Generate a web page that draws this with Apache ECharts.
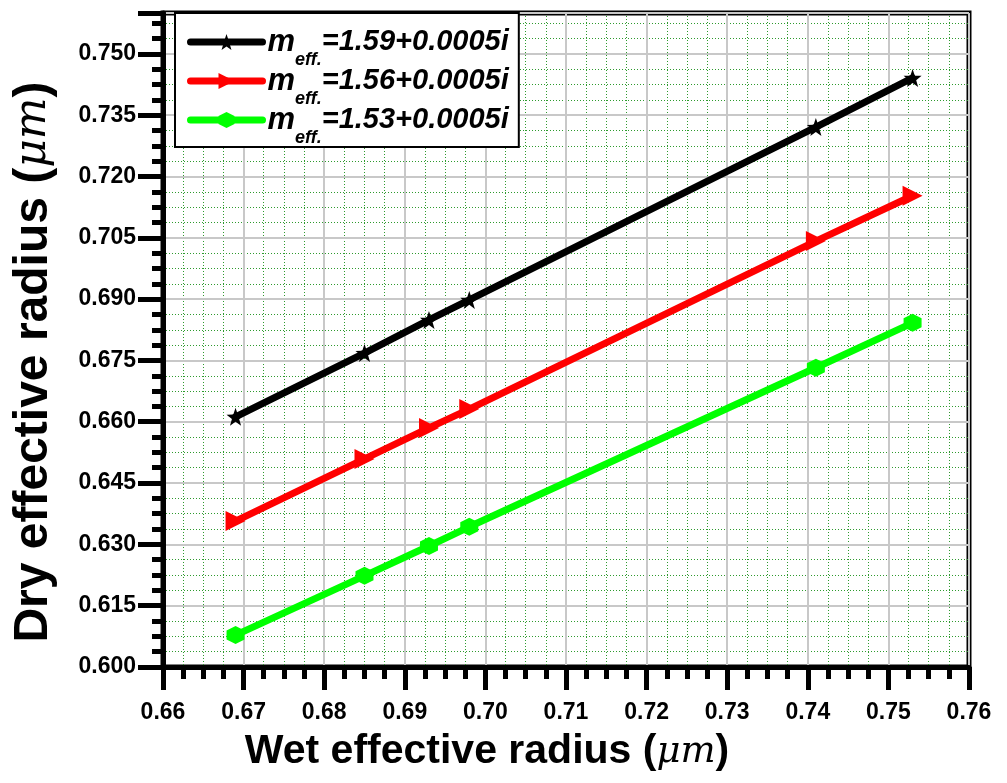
<!DOCTYPE html>
<html>
<head>
<meta charset="utf-8">
<script src="https://cdn.jsdelivr.net/npm/echarts@6/dist/echarts.min.js"></script>
<style>
    html, body { margin: 0; padding: 0; background: #fff; }
    #main-chart { width: 1007px; height: 783px; }
</style>
</head>
<body>
<div id="main-chart"></div>
<script>
const chartDiv = 'main-chart';

// wet effective radius (x) and dry effective radius for each refractive index
const wetRadius = [0.669, 0.685, 0.693, 0.698, 0.741, 0.753];
const dry159 = [0.6612, 0.6768, 0.6849, 0.6898, 0.7321, 0.7441];
const dry156 = [0.6357, 0.6509, 0.6585, 0.6631, 0.7042, 0.7153];
const dry153 = [0.6078, 0.6223, 0.6296, 0.6343, 0.6732, 0.6842];
const seriesNames = ['1.59+0.0005i', '1.56+0.0005i', '1.53+0.0005i'];
const seriesColors = ['#000000', '#ff0000', '#00ff00'];

const starPath = 'path://M0,-10 L2.35,-3.24 9.51,-3.09 3.8,1.24 5.88,8.09 0,4 -5.88,8.09 -3.8,1.24 -9.51,-3.09 -2.35,-3.24 Z';
const hexPath = 'path://M0,-10 L8.66,-5 8.66,5 0,10 -8.66,5 -8.66,-5 Z';

const mainChart = echarts.init(document.getElementById(chartDiv));

function pairUp(ys) {
    return wetRadius.map(function (x, i) {
        return [x, ys[i]];
    });
}

const fontBold = 'Liberation Sans, Arial, sans-serif';

function majorGrid() {
    return {show: true, lineStyle: {color: '#c8c8c8', width: 2}};
}
function minorGrid() {
    return {show: true, lineStyle: {color: '#2e9a2e', width: 1, type: [1, 2]}};
}
function tick(len, w) {
    return {show: true, length: len, lineStyle: {color: '#000000', width: w}};
}

function lineSeries(name, ys, color, symbol, size, rotate) {
    return {
        name: name,
        type: 'line',
        data: pairUp(ys),
        xAxisIndex: 0,
        yAxisIndex: 0,
        symbol: symbol,
        symbolSize: size,
        symbolRotate: rotate || 0,
        showAllSymbol: true,
        lineStyle: {color: color, width: 7, cap: 'round'},
        itemStyle: {color: color},
        z: 5
    };
}

function titleRich(size) {
    return {
        a: {fontFamily: fontBold, fontWeight: 'bold', fontSize: size, fill: '#000'},
        b: {fontFamily: 'DejaVu Serif, serif', fontStyle: 'italic', fontSize: size - 4, fill: '#000'}
    };
}

const option = {
    backgroundColor: '#ffffff',
    animation: false,
    grid: {left: 163, right: 38, top: 13, bottom: 116, show: true, borderColor: '#000000', borderWidth: 5, backgroundColor: 'transparent'},
    legend: {
        left: 175,
        top: 13,
        orient: 'vertical',
        backgroundColor: '#ffffff',
        borderColor: '#000000',
        borderWidth: 2,
        borderRadius: 0,
        padding: [2, 10, 0, 12],
        itemGap: -15,
        itemWidth: 72,
        itemHeight: 20,
        z: 10,
        lineStyle: {width: 7, cap: 'round'},
        data: seriesNames,
        formatter: function (name) {
            return '{m|m}{sub|eff.}{t|=' + name + '}';
        },
        textStyle: {
            rich: {
                m: {fontFamily: fontBold, fontWeight: 'bold', fontStyle: 'italic', fontSize: 31, color: '#000', lineHeight: 34},
                sub: {fontFamily: fontBold, fontWeight: 'bold', fontStyle: 'italic', fontSize: 18, color: '#000', lineHeight: 18, padding: [36, 0, 0, 0]},
                t: {fontFamily: fontBold, fontWeight: 'bold', fontStyle: 'italic', fontSize: 29, color: '#000', lineHeight: 34}
            }
        }
    },
    // axis titles as text (rich axis names broke tick drawing)
    graphic: [
        {
            type: 'text',
            x: 487,
            y: 752,
            z: 20,
            style: {
                text: '{a|Wet effective radius (}{b|μm}{a|)}',
                align: 'center',
                verticalAlign: 'middle',
                rich: titleRich(41)
            }
        },
        {
            type: 'text',
            x: 34,
            y: 362,
            rotation: Math.PI / 2,
            z: 20,
            style: {
                text: '{a|Dry effective radius (}{b|μm}{a|)}',
                align: 'center',
                verticalAlign: 'middle',
                rich: titleRich(48)
            }
        }
    ],
    xAxis: [
        {
            type: 'value',
            position: 'bottom',
            min: 0.66,
            max: 0.76,
            interval: 0.01,
            axisLine: {show: true, lineStyle: {color: '#000', width: 5}},
            axisTick: tick(23, 5),
            axisLabel: {
                margin: 34,
                color: '#000',
                fontFamily: fontBold,
                fontWeight: 'bold',
                fontSize: 23,
                formatter: function (v) { return v.toFixed(2); }
            },
            splitLine: majorGrid(),
            z: 3
        },
        {
            // minor ticks + dotted minor grid
            type: 'value',
            position: 'bottom',
            min: 0.66,
            max: 0.76,
            interval: 0.0025,
            axisLine: {show: false},
            axisTick: tick(12, 5),
            axisLabel: {show: false},
            splitLine: minorGrid(),
            z: 2
        }
    ],
    yAxis: [
        {
            type: 'value',
            position: 'left',
            min: 0.6,
            max: 0.76,
            interval: 0.015,
            axisLine: {show: true, lineStyle: {color: '#000', width: 5}},
            axisTick: tick(25, 5),
            minorTick: {show: true, splitNumber: 4, length: 11, lineStyle: {color: '#000000', width: 5}},
            minorSplitLine: minorGrid(),
            axisLabel: {
                margin: 27,
                color: '#000',
                fontFamily: fontBold,
                fontWeight: 'bold',
                fontSize: 23,
                showMaxLabel: false,
                formatter: function (v) { return v.toFixed(3); }
            },
            splitLine: majorGrid(),
            z: 3
        }
    ],
    series: [
        lineSeries(seriesNames[0], dry159, seriesColors[0], starPath, 18),
        lineSeries(seriesNames[1], dry156, seriesColors[1], 'triangle', 20, -90),
        lineSeries(seriesNames[2], dry153, seriesColors[2], hexPath, 18)
    ]
};

mainChart.setOption(option);
</script>
</body>
</html>
